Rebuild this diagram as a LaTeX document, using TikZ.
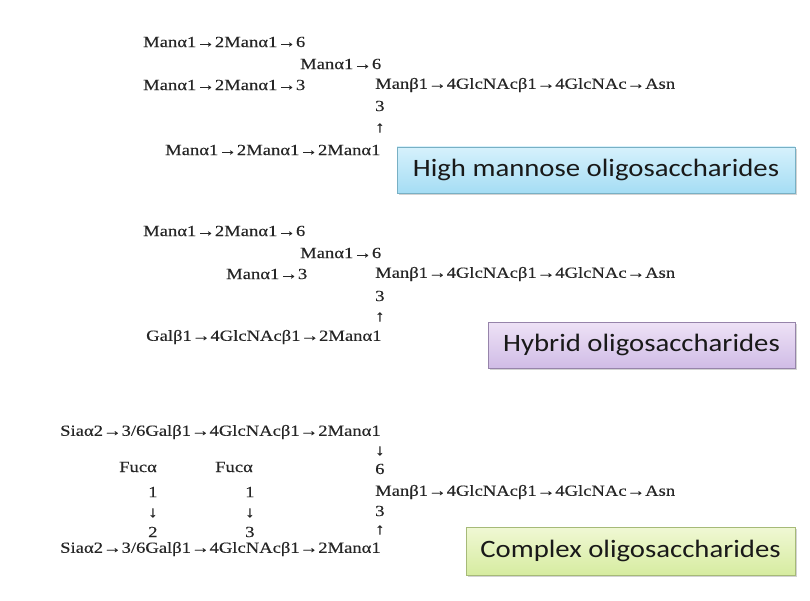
\documentclass[tikz,border=0pt]{standalone}
\usepackage{fontspec}
\usepackage{tikz}
\usetikzlibrary{positioning,shadows,shadings}
\newfontfamily\glycanfont[FakeStretch=1.2,FakeBold=0.3]{Liberation Serif}
\newfontfamily\classfont[FakeStretch=1.15]{Carlito}
\definecolor{HighTop}{RGB}{214,241,252}
\definecolor{HighBot}{RGB}{165,221,244}
\definecolor{HighLine}{RGB}{120,176,196}
\definecolor{HybTop}{RGB}{238,226,246}
\definecolor{HybBot}{RGB}{208,188,230}
\definecolor{HybLine}{RGB}{150,132,170}
\definecolor{CpxTop}{RGB}{240,248,212}
\definecolor{CpxBot}{RGB}{214,236,160}
\definecolor{CpxLine}{RGB}{166,186,120}
\tikzset{
    x=1pt, y=-1pt,
    glycan/.style = {font=\glycanfont\fontsize{15.5}{18}\selectfont, inner sep=0pt, anchor=west, text=black!85},
    classbox/.style = {draw=#1Line, top color=#1Top, bottom color=#1Bot, line width=0.8pt,
        font=\classfont\fontsize{25}{28}\selectfont, text=black!90, minimum height=46pt,
        drop shadow={opacity=0.35, shadow xshift=2pt, shadow yshift=-2pt}}
}
\begin{document}
\begin{tikzpicture}
    \useasboundingbox (0,0) rectangle (810,601);
    % High mannose
    \node[glycan] (hmA) at (143,42) {Manα1→2Manα1→6};
    \node[glycan] (hmB) at (300,64) {Manα1→6};
    \node[glycan] (hmC) at (143,85) {Manα1→2Manα1→3};
    \node[glycan] (hmcore) at (375,85) {Manβ1→4GlcNAcβ1→4GlcNAc→Asn};
    \node[glycan] (hmthree) at (375,106) {3};
    \node[glycan] (hmup) at (375,128) {↑};
    \node[glycan] (hmD) at (165,150) {Manα1→2Manα1→2Manα1};
    \node[classbox=High, minimum width=398pt] (highbox) at (596,170) {High mannose oligosaccharides};
    % Hybrid
    \node[glycan] (hyA) at (143,231) {Manα1→2Manα1→6};
    \node[glycan] (hyB) at (300,253) {Manα1→6};
    \node[glycan] (hyC) at (226,274) {Manα1→3};
    \node[glycan] (hycore) at (375,274) {Manβ1→4GlcNAcβ1→4GlcNAc→Asn};
    \node[glycan] (hythree) at (375,296) {3};
    \node[glycan] (hyup) at (375,317) {↑};
    \node[glycan] (hyD) at (146,337) {Galβ1→4GlcNAcβ1→2Manα1};
    \node[classbox=Hyb, minimum width=307pt] (hybbox) at (641.5,345) {Hybrid oligosaccharides};
    % Complex
    \node[glycan] (cxA) at (60,432) {Siaα2→3/6Galβ1→4GlcNAcβ1→2Manα1};
    \node[glycan] (cxdown) at (375,451) {↓};
    \node[glycan] (cxsix) at (375,469) {6};
    \node[glycan] (fucL) at (119,467) {Fucα};
    \node[glycan] (fucR) at (215,467) {Fucα};
    \node[glycan] (fucLone) at (148,492) {1};
    \node[glycan] (fucRone) at (245,492) {1};
    \node[glycan] (cxcore) at (375,492) {Manβ1→4GlcNAcβ1→4GlcNAc→Asn};
    \node[glycan] (fucLdown) at (148,513) {↓};
    \node[glycan] (fucRdown) at (245,513) {↓};
    \node[glycan] (cxthree) at (375,511) {3};
    \node[glycan] (fucLtwo) at (148,532) {2};
    \node[glycan] (fucRthree) at (245,532) {3};
    \node[glycan] (cxup) at (375,530) {↑};
    \node[glycan] (cxB) at (60,549) {Siaα2→3/6Galβ1→4GlcNAcβ1→2Manα1};
    \node[classbox=Cpx, minimum width=329pt, minimum height=48pt] (cpxbox) at (630.5,551) {Complex oligosaccharides};
\end{tikzpicture}
\end{document}
